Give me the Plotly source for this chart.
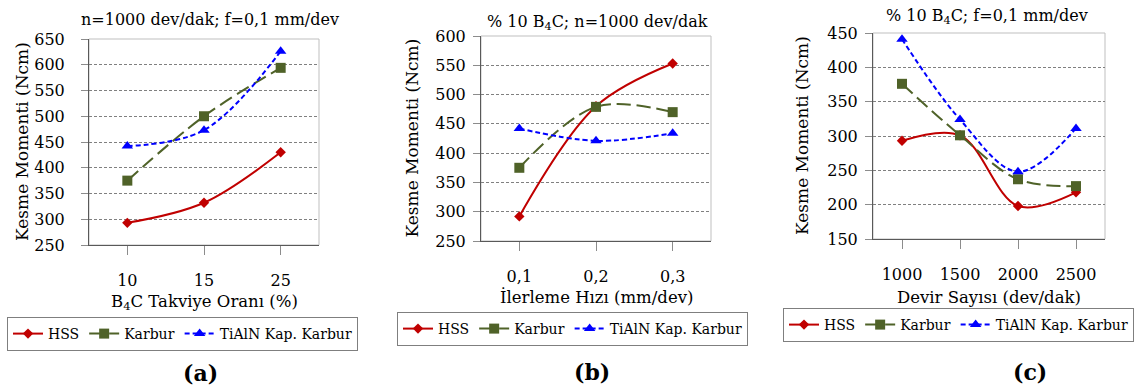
import plotly.graph_objects as go

# ---------------- data ----------------
series_names = ["HSS", "Karbur", "TiAlN Kap. Karbur"]
y_title = "Kesme Momenti (Ncm)"

a_cats = ["10", "15", "25"]
a_hss = [293, 332, 430]
a_karbur = [375, 500, 594]
a_tialn = [442, 473, 626]

b_cats = ["0,1", "0,2", "0,3"]
b_hss = [292, 480, 553]
b_karbur = [375, 479, 470]
b_tialn = [442, 421, 434]

c_cats = ["1000", "1500", "2000", "2500"]
c_hss = [293, 301, 198, 218]
c_karbur = [376, 301, 237, 227]
c_tialn = [441, 324, 248, 311]

titles = ["n=1000 dev/dak; f=0,1 mm/dev",
          "% 10 B<sub>4</sub>C; n=1000 dev/dak",
          "% 10 B<sub>4</sub>C; f=0,1 mm/dev"]
x_titles = ["B<sub>4</sub>C Takviye Oranı (%)",
            "İlerleme Hızı (mm/dev)",
            "Devir Sayısı (dev/dak)"]
panel_labels = ["(a)", "(b)", "(c)"]
y_ranges = [(250, 650), (250, 600), (150, 450)]

# ---------------- layout geometry (pixels) ----------------
W, H = 1135, 388
FONT = "DejaVu Serif"
panels = [
    dict(cats=a_cats, data=[a_hss, a_karbur, a_tialn], px=(89, 319), py=(39, 245),
         ylab_x=22, ystand=13, title_y=19, title_x=210, xt_y=302, leg=(7, 317), lab=(200, 373)),
    dict(cats=b_cats, data=[b_hss, b_karbur, b_tialn], px=(481, 711), py=(36, 241),
         ylab_x=411, ystand=4, title_y=22, title_x=597, xt_y=297, leg=(397, 312), lab=(592, 372)),
    dict(cats=c_cats, data=[c_hss, c_karbur, c_tialn], px=(873, 1105), py=(33, 239),
         ylab_x=802, ystand=4, title_y=17, title_x=987, xt_y=297, leg=(783, 308), lab=(1030, 372)),
]

colors = ["#C00000", "#4F6228", "#0000FF"]
dashes = ["solid", "14px,6px", "5px,3px"]
symbols = ["diamond", "square", "triangle-up"]
msizes = [8, 10, 10]

fig = go.Figure()
annotations = []
shapes = []
for i, p in enumerate(panels):
    sfx = "" if i == 0 else str(i + 1)
    xa, ya = "x" + sfx, "y" + sfx
    leg = "legend" + sfx
    for k in range(3):
        fig.add_trace(go.Scatter(
            x=p["cats"], y=p["data"][k], name=series_names[k],
            xaxis=xa, yaxis=ya, legend=leg, mode="lines+markers",
            line=dict(color=colors[k], width=2, dash=dashes[k], shape="spline", smoothing=1.0),
            marker=dict(symbol=symbols[k], size=msizes[k], color=colors[k]),
        ))
    x0, x1 = p["px"][0] / W, p["px"][1] / W
    y0, y1 = 1 - p["py"][1] / H, 1 - p["py"][0] / H
    lo, hi = y_ranges[i]
    fig.update_layout(**{
        "xaxis" + sfx: dict(
            domain=[x0, x1], anchor=ya, type="category", range=[-0.5, len(p["cats"]) - 0.5],
            showline=True, linecolor="#595959", linewidth=1, ticks="outside", ticklen=9,
            tickcolor="#8c8c8c", showgrid=False, ticklabelstandoff=12,
            tickfont=dict(family=FONT, size=16, color="black"), fixedrange=True),
        "yaxis" + sfx: dict(
            domain=[y0, y1], anchor=xa, range=[lo, hi], dtick=50, tick0=0,
            showline=True, linecolor="#595959", linewidth=1, ticks="outside", ticklen=7,
            tickcolor="#8c8c8c", showgrid=True, gridcolor="#808080", griddash="3px,2px",
            gridwidth=1, zeroline=False, ticklabelstandoff=p["ystand"],
            tickfont=dict(family=FONT, size=16, color="black"), fixedrange=True),
        leg: dict(
            x=p["leg"][0] / W, y=1 - p["leg"][1] / H, xanchor="left", yanchor="top",
            orientation="h", bordercolor="#7f7f7f", borderwidth=1, bgcolor="white",
            font=dict(family=FONT, size=14, color="black"), itemwidth=30,
            tracegroupgap=0, itemclick=False, itemdoubleclick=False),
    })
    shapes.append(dict(type="rect", xref=xa + " domain", yref=ya + " domain",
                       x0=0, x1=1, y0=0, y1=1, line=dict(color="#bfbfbf", width=1),
                       layer="below"))
    annotations += [
        dict(text=titles[i], x=p["title_x"] / W, y=1 - p["title_y"] / H, xref="paper", yref="paper",
             showarrow=False, xanchor="center", yanchor="middle",
             font=dict(family=FONT, size=16, color="black")),
        dict(text=y_title, x=p["ylab_x"] / W, y=1 - ((p["py"][0] + p["py"][1]) / 2) / H,
             xref="paper", yref="paper", showarrow=False, textangle=-90,
             xanchor="center", yanchor="middle", font=dict(family=FONT, size=17, color="black")),
        dict(text=x_titles[i], x=(p["px"][0] + p["px"][1]) / 2 / W, y=1 - p["xt_y"] / H,
             xref="paper", yref="paper", showarrow=False, xanchor="center", yanchor="middle",
             font=dict(family=FONT, size=16.5, color="black")),
        dict(text="<b>" + panel_labels[i] + "</b>", x=p["lab"][0] / W, y=1 - p["lab"][1] / H,
             xref="paper", yref="paper", showarrow=False, xanchor="center", yanchor="middle",
             font=dict(family=FONT, size=22, color="black")),
    ]

fig.update_layout(width=W, height=H,
                  margin=dict(l=0, r=0, t=0, b=0, pad=0, autoexpand=False),
                  paper_bgcolor="white", plot_bgcolor="white",
                  annotations=annotations, shapes=shapes, showlegend=True)
fig.write_html("out.html")
